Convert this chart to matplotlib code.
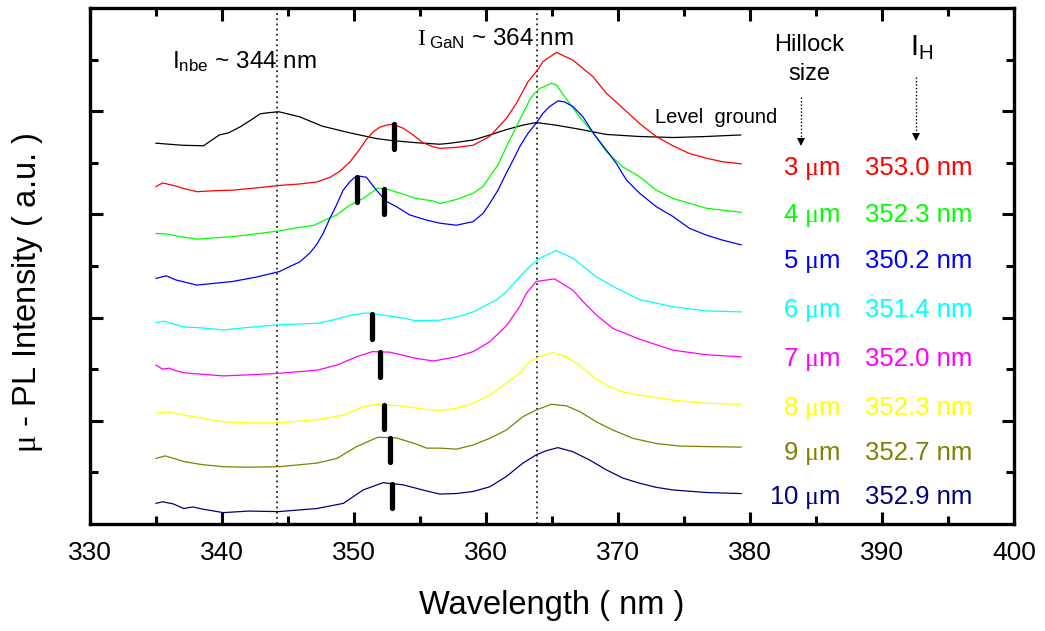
import matplotlib
matplotlib.use("Agg")
import matplotlib.pyplot as plt
import numpy as np

plt.rcParams["font.family"] = ["Liberation Sans", "DejaVu Sans"]
plt.rcParams["mathtext.fontset"] = "custom"
plt.rcParams["mathtext.rm"] = "Liberation Serif"
plt.rcParams["mathtext.sf"] = "Liberation Sans"
plt.rcParams["mathtext.it"] = "Liberation Sans:italic"

# ---- spectra (stacked, arbitrary units) ----
ground_wl = [335.0, 336.0, 337.0, 338.6, 339.8, 340.5, 341.4, 342.2, 342.9, 343.5, 344.3, 345.9,
             347.6, 349.7, 351.7, 352.9, 354.7, 356.5, 357.3, 359.0, 360.3, 361.5, 362.8, 363.8,
             365.3, 367.1, 369.1, 371.6, 374.2, 376.7, 379.3]
ground_iv = [7.38, 7.36, 7.34, 7.33, 7.54, 7.58, 7.70, 7.83, 7.95, 7.97, 7.99, 7.89,
             7.71, 7.58, 7.47, 7.43, 7.39, 7.36, 7.38, 7.44, 7.54, 7.64, 7.73, 7.78,
             7.73, 7.65, 7.55, 7.51, 7.49, 7.51, 7.54]

h3_wl = [335.0, 335.5, 336.0, 336.5, 337.0, 338.1, 339.5, 340.8, 342.5, 344.3, 345.9, 347.2,
         348.2, 348.9, 349.7, 350.4, 350.9, 351.45, 351.95, 352.46, 352.96, 353.72, 354.48,
         355.23, 355.99, 356.5, 357.76, 359.02, 360.28, 361.54, 362.30, 363.18, 363.94, 364.32,
         365.33, 366.59, 367.35, 368.10, 369.11, 370.37, 371.64, 372.90, 374.16, 375.42,
         376.68, 377.94, 379.33]
h3_iv = [6.54, 6.61, 6.58, 6.55, 6.51, 6.44, 6.46, 6.47, 6.51, 6.56, 6.59, 6.63,
         6.72, 6.83, 7.02, 7.25, 7.44, 7.60, 7.69, 7.73, 7.75, 7.67, 7.54,
         7.39, 7.31, 7.28, 7.30, 7.34, 7.51, 7.86, 8.15, 8.57, 8.81, 8.96,
         9.14, 8.99, 8.83, 8.67, 8.35, 8.06, 7.76, 7.51, 7.33, 7.18,
         7.09, 7.02, 6.98]

h4_wl = [335.0, 335.8, 336.6, 338.1, 340.8, 342.5, 344.3, 345.9, 347.0, 347.7, 348.7, 349.7,
         350.7, 351.8, 352.5, 353.5, 354.7, 356.0, 356.5, 357.76, 359.02, 359.78, 360.28,
         360.91, 361.54, 362.05, 362.55, 362.93, 363.31, 363.69, 364.07, 364.95, 365.33,
         365.96, 367.09, 368.23, 369.11, 370.37, 371.64, 372.90, 374.16, 376.68, 379.33]
h4_iv = [5.63, 5.62, 5.58, 5.52, 5.57, 5.62, 5.68, 5.75, 5.79, 5.88, 5.99, 6.18,
         6.31, 6.51, 6.49, 6.41, 6.31, 6.26, 6.21, 6.29, 6.41, 6.54, 6.73,
         6.96, 7.31, 7.57, 7.83, 8.02, 8.22, 8.35, 8.44, 8.54, 8.51,
         8.28, 7.89, 7.54, 7.22, 6.92, 6.73, 6.47, 6.31, 6.12, 6.04]

h5_wl = [335.0, 335.8, 336.5, 338.1, 340.8, 342.5, 344.33, 345.14, 345.90, 346.65, 347.16,
         347.66, 348.17, 348.67, 349.18, 349.68, 350.06, 350.44, 350.94, 351.70, 352.46,
         353.22, 354.22, 355.49, 356.50, 357.76, 359.02, 359.78, 360.28, 360.91, 361.54,
         362.05, 362.55, 363.18, 363.81, 364.32, 364.82, 365.45, 365.96, 366.59, 367.35,
         368.23, 369.11, 369.87, 370.63, 371.64, 372.90, 374.16, 375.42, 376.68, 377.94, 379.33]
h5_iv = [4.76, 4.81, 4.73, 4.63, 4.70, 4.78, 4.89, 4.99, 5.08, 5.25, 5.41,
         5.63, 5.92, 6.18, 6.47, 6.63, 6.72, 6.74, 6.72, 6.47, 6.25,
         6.15, 5.99, 5.89, 5.83, 5.79, 5.86, 6.02, 6.21, 6.47, 6.80,
         7.05, 7.31, 7.57, 7.77, 7.96, 8.09, 8.20, 8.18, 8.09, 7.89,
         7.54, 7.25, 6.99, 6.67, 6.41, 6.15, 5.96, 5.73, 5.60, 5.50, 5.41]

h6_wl = [335.0, 335.6, 336.3, 337.1, 338.5, 340.1, 342.0, 344.3, 347.2, 348.7, 349.8, 350.9,
         352.2, 353.5, 354.7, 356.5, 357.76, 359.02, 359.78, 360.78, 361.54, 362.55, 363.31,
         364.07, 365.33, 366.59, 368.36, 369.87, 371.64, 372.90, 374.16, 376.68, 379.33]
h6_iv = [3.90, 3.93, 3.88, 3.82, 3.80, 3.76, 3.81, 3.86, 3.89, 3.97, 4.05, 4.09,
         4.05, 4.00, 3.94, 3.95, 4.01, 4.11, 4.21, 4.34, 4.50, 4.79, 4.99,
         5.15, 5.30, 5.15, 4.79, 4.57, 4.35, 4.28, 4.21, 4.13, 4.11]

h7_wl = [335.0, 335.5, 336.0, 336.5, 337.1, 340.1, 342.0, 344.3, 347.2, 348.7, 350.2, 351.4,
         352.7, 354.7, 356.0, 356.5, 357.76, 359.02, 360.28, 361.54, 362.55, 363.06, 363.81,
         365.20, 366.59, 367.35, 368.36, 369.62, 371.64, 374.16, 376.68, 379.33]
h7_iv = [3.08, 3.00, 3.02, 2.97, 2.93, 2.87, 2.89, 2.92, 2.98, 3.08, 3.24, 3.34,
         3.33, 3.21, 3.16, 3.18, 3.24, 3.34, 3.53, 3.84, 4.21, 4.47, 4.70,
         4.75, 4.53, 4.31, 4.05, 3.79, 3.58, 3.37, 3.28, 3.24]

h8_wl = [335.0, 336.0, 337.1, 338.5, 340.1, 342.0, 344.3, 347.2, 349.2, 350.7, 351.8, 353.5,
         355.5, 356.5, 357.76, 359.02, 360.28, 361.54, 362.55, 363.31, 364.07, 365.07, 366.08,
         367.09, 368.10, 369.11, 370.37, 371.64, 374.16, 376.68, 379.33]
h8_iv = [2.15, 2.17, 2.11, 2.05, 1.98, 1.96, 1.96, 2.02, 2.11, 2.27, 2.32, 2.29,
         2.22, 2.20, 2.24, 2.34, 2.50, 2.73, 2.92, 3.15, 3.24, 3.32, 3.24,
         3.08, 2.85, 2.69, 2.56, 2.50, 2.40, 2.34, 2.32]

h9_wl = [335.0, 335.7, 336.5, 337.1, 338.5, 340.1, 342.0, 344.3, 347.2, 348.7, 350.2, 351.8,
         353.2, 354.7, 355.5, 356.5, 357.76, 359.02, 360.28, 361.54, 362.80, 363.81, 364.95,
         366.08, 367.09, 368.36, 369.62, 371.13, 372.90, 374.66, 376.68, 379.33]
h9_iv = [1.27, 1.32, 1.26, 1.21, 1.15, 1.11, 1.10, 1.11, 1.18, 1.27, 1.50, 1.68,
         1.67, 1.55, 1.47, 1.47, 1.45, 1.53, 1.66, 1.82, 2.08, 2.21, 2.32,
         2.29, 2.18, 1.98, 1.82, 1.66, 1.56, 1.51, 1.50, 1.49]

h10_wl = [335.0, 335.5, 336.3, 337.1, 337.8, 338.5, 340.1, 342.0, 344.3, 347.2, 349.2, 350.7,
          352.2, 353.7, 355.5, 356.5, 357.76, 359.02, 360.28, 361.54, 362.80, 363.81, 364.57,
          365.45, 366.59, 367.85, 369.11, 370.37, 371.64, 372.90, 374.16, 376.68, 379.33]
h10_iv = [0.40, 0.43, 0.39, 0.30, 0.33, 0.29, 0.22, 0.25, 0.24, 0.30, 0.40, 0.66,
          0.80, 0.76, 0.64, 0.58, 0.59, 0.63, 0.72, 0.92, 1.18, 1.34, 1.42,
          1.48, 1.40, 1.24, 1.05, 0.89, 0.79, 0.71, 0.66, 0.61, 0.59]

hillock_sizes = ["3", "4", "5", "6", "7", "8", "9", "10"]
peak_nm = [353.0, 352.3, 350.2, 351.4, 352.0, 352.3, 352.7, 352.9]
series_colors = ["#FF0000", "#00FF00", "#0000FF", "#00FFFF", "#FF00FF", "#FFFF00", "#808000", "#000080"]

nbe_line = 344.2
gan_line = 363.9

series = [(h3_wl, h3_iv), (h4_wl, h4_iv), (h5_wl, h5_iv), (h6_wl, h6_iv),
          (h7_wl, h7_iv), (h8_wl, h8_iv), (h9_wl, h9_iv), (h10_wl, h10_iv)]

fig = plt.figure(figsize=(10.45, 6.31), dpi=100)
ax = fig.add_axes([0.0861, 0.1696, 0.8842, 0.8177])

ax.set_xlim(330, 400)
ax.set_ylim(0, 10)

# reference wavelengths
for xv in (nbe_line, gan_line):
    ax.axvline(xv, color="black", lw=1.1, linestyle=(0, (1.2, 2.2)), zorder=1)

ax.plot(ground_wl, ground_iv, color="black", lw=0.9, zorder=2)
for (wl, iv), col in zip(series, series_colors):
    ax.plot(wl, iv, color=col, lw=0.9, zorder=2)

# hillock emission markers
bar_len = 0.48
for (wl, iv), pk in zip(series, peak_nm):
    y0 = np.interp(pk, wl, iv)
    ax.plot([pk, pk], [y0, y0 - bar_len], color="black", lw=3.8,
            solid_capstyle="round", zorder=3)

# right-hand labels
label_y = [6.76, 5.86, 4.96, 4.02, 3.07, 2.11, 1.24, 0.39]
for size, pk, col, yl in zip(hillock_sizes, peak_nm, series_colors, label_y):
    ax.text(386.85, yl, size + r" $\mathrm{\mu}$m", color=col, fontsize=18.5,
            ha="right", va="baseline")
    ax.text(388.7, yl, f"{pk:.1f} nm", color=col, fontsize=18.5,
            ha="left", va="baseline")

ax.text(372.8, 7.78, "Level  ground", fontsize=14.5, ha="left", va="baseline")
ax.text(336.2, 8.84, r"I$_{\mathsf{nbe}}$ ~ 344 nm", fontsize=17.5, ha="left", va="baseline")
ax.text(354.75, 9.28, r"$\mathrm{I}_{\;\mathsf{GaN}}$ ~ 364 nm", fontsize=17.5, ha="left", va="baseline")
ax.text(384.5, 9.17, "Hillock", fontsize=17, ha="center", va="baseline")
ax.text(384.5, 8.60, "size", fontsize=17, ha="center", va="baseline")
ax.text(392.15, 9.09, r"I$_{\mathsf{H}}$", fontsize=21, ha="left", va="baseline")

# dotted pointers
for xa, ytop, ybot in [(383.9, 8.27, 7.40), (392.6, 8.66, 7.50)]:
    ax.plot([xa, xa], [ytop, ybot], color="black", lw=1.0, linestyle=(0, (1, 1.5)))
    ax.plot([xa], [ybot], marker="v", color="black", markersize=6, markeredgewidth=0)

# axes styling
for sp in ax.spines.values():
    sp.set_linewidth(2.4)
ax.set_xticks(np.arange(330, 401, 10))
ax.set_xticks(np.arange(335, 400, 10), minor=True)
ax.set_yticks([2, 4, 6, 8])
ax.set_yticks([1, 3, 5, 7, 9], minor=True)
ax.tick_params(which="both", direction="in", top=True, right=True, width=2.2,
               labelleft=False, labelsize=19, pad=12)
ax.tick_params(which="major", length=9)
ax.tick_params(which="minor", length=5.5)

ax.set_xlabel("Wavelength ( nm )", fontsize=23.5)
ax.xaxis.set_label_coords(0.5, -0.128)
ax.set_ylabel(r"$\mathrm{\mu}$ - PL Intensity ( a.u. )", fontsize=23.5)
ax.yaxis.set_label_coords(-0.049, 0.448)

fig.savefig("out.png", dpi=100)
